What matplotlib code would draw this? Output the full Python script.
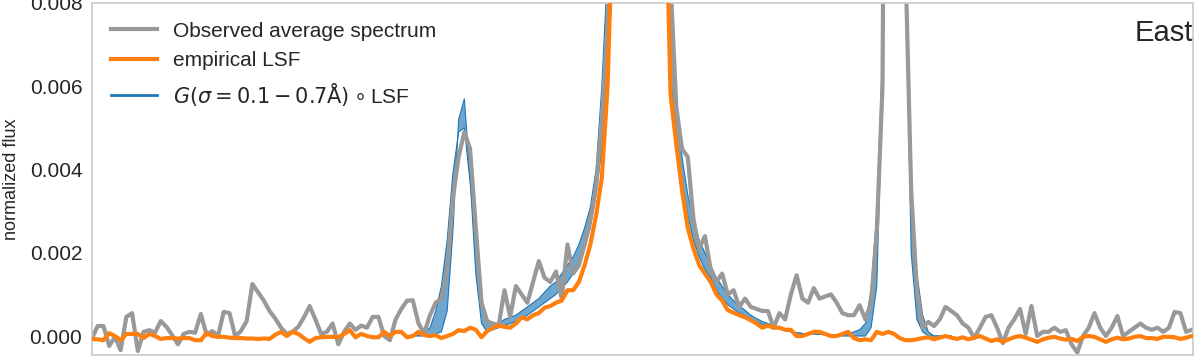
import numpy as np
import matplotlib
matplotlib.use("Agg")
import matplotlib.pyplot as plt
from matplotlib.lines import Line2D

plt.rcParams['font.family'] = ['Liberation Sans', 'DejaVu Sans']

# observed average spectrum (grey), sampled on detector pixels
observed = [
    -0.00005, 0.00024, 0.00024, -0.00024, -0.00002, -0.00034, 0.00046, 0.00055, -0.00036, 0.0001,
    0.00014, 0.00008, 0.00036, 0.00022, 0.00002, -0.0002, 0.00005, 0.0001, 0.00008, 0.00053,
    0.00003, 0.00012, 0.0, 0.00058, 0.00055, -0.00001, 0.00012, 0.00036, 0.00125, 0.00105,
    0.00085, 0.0006, 0.00042, 0.0002, 0.00005, 0.0001, 0.00022, 0.00045, 0.00072, 0.0004,
    0.00005, 0.0001, 0.0003, -0.0002, 0.0001, 0.0003, 0.00015, 0.00025, 0.0002, 0.00046,
    0.00046, 0.0, -0.0001, 0.0004, 0.00065, 0.00085, 0.00086, 0.0003, 0.00007, 0.0005,
    0.0008, 0.0009, 0.0016, 0.0033, 0.0043, 0.0049, 0.0045, 0.0026, 0.0008, 0.00035,
    0.0003, 0.00026, 0.0011, 0.00046, 0.0012, 0.001, 0.0008, 0.0013, 0.0018, 0.0014,
    0.0013, 0.00155, 0.0009, 0.0022, 0.0015, 0.0017, 0.0022, 0.0028, 0.0036, 0.0052,
    0.0075, 0.013, 0.035, 0.09, 0.17, 0.22, 0.2, 0.12, 0.06, 0.03,
    0.016, 0.0085, 0.0055, 0.0045, 0.0043, 0.0028, 0.0021, 0.0024, 0.0016, 0.0013,
    0.0015, 0.001, 0.0011, 0.0007, 0.0009, 0.0007, 0.00065, 0.0006, 0.0006, 0.0002,
    0.00055, 0.0004, 0.001, 0.00146, 0.0009, 0.0008, 0.00115, 0.0009, 0.00095, 0.001,
    0.0008, 0.00055, 0.0005, 0.0005, 0.00074, 0.0004, 0.0008, 0.0025, 0.006, 0.03,
    0.06, 0.035, 0.009, 0.0035, 0.0011, 0.0002, 0.00034, 0.00024, 0.0004, 0.0007,
    0.0006, 0.0005, 0.0003, 0.0002, -0.00005, 0.0002, 0.00046, 0.0005, 0.0002, -0.00017,
    0.0002, 0.0004, 0.00065, 0.00005, 0.00072, 0.0, 0.0001, 0.0001, 0.0002, 0.0001,
    0.00014, -0.0002, -0.0004, 0.0, 0.0002, 0.00055, 0.0002, 0.0, 0.0002, 0.00048,
    0.0, 0.0001, 0.0002, 0.0003, 0.0002, 0.00015, 0.0002, 0.0001, 0.0002, 0.00058,
    0.00055, 0.0001, 0.00015,
]

# empirical LSF (orange)
lsf = [
    -0.00007, -0.00008, -0.0001, 0.00007, 0.0, -0.0001, 0.00005, 0.00005, 0.00005, -0.00005,
    0.00005, 0.0, -0.00007, -0.00005, -0.00005, -0.00006, -0.00005, -0.00005, -0.0001, -0.0001,
    0.00007, 0.0, -0.00002, -0.00002, -0.00004, -0.00005, -0.00005, -0.00006, -0.00006, -0.00007,
    -0.00006, -0.00007, 0.00003, 0.0001, 0.0, 0.0001, 0.00005, -0.00005, -0.00014, -0.00005,
    -0.00003, -0.00002, -0.00002, -0.00003, 0.00005, 0.00014, -0.00003, 0.00005, 0.0, -0.00003,
    -0.00003, 0.0001, 0.0, 0.0001, 0.0001, -0.00003, 0.0, 0.0001, 0.00002, 0.0,
    0.00002, -0.00005, 0.0, 0.00005, 0.00014, 0.00012, 0.0002, 0.00015, -0.00003, 0.00012,
    0.0002, 0.00025, 0.00022, 0.0002, 0.0003, 0.00045, 0.0004, 0.0005, 0.00055, 0.00068,
    0.00072, 0.0008, 0.00085, 0.0011, 0.0011, 0.0013, 0.0017, 0.0022, 0.0029, 0.0038,
    0.006, 0.0105, 0.03, 0.08, 0.17, 0.23, 0.2, 0.11, 0.05, 0.022,
    0.0115, 0.0058, 0.0046, 0.0035, 0.0026, 0.0021, 0.0017, 0.0015, 0.0013, 0.001,
    0.00085, 0.00062, 0.00056, 0.0005, 0.00045, 0.00038, 0.0003, 0.0002, 0.00025, 0.0002,
    0.0002, 0.00015, 0.00015, 0.0, 0.0, 0.00005, 0.0001, 0.0001, 0.00005, 0.0,
    0.0, 0.00005, 0.0001, -0.00005, -0.0001, -0.00008, -0.0001, 0.0001, 0.00005, 0.0001,
    0.00005, -0.00005, -0.0001, -0.0001, -0.00008, -0.00005, -0.00003, -0.00008, -0.00004, 0.0,
    -0.00004, -0.00007, -0.00003, -0.00008, -0.00004, 0.0, -0.00006, -0.00012, -0.00008, -0.00014,
    -0.00008, -0.00003, 0.0, -0.00004, -0.00009, -0.00014, -0.00008, -0.00004, -0.00002, -0.00006,
    -0.00009, -0.00007, -0.00012, -0.00002, 0.0, -0.00002, -0.00008, -0.00014, -0.00008, -0.00004,
    -0.00008, -0.00006, -0.00002, 0.0, -0.00005, -0.00005, -0.00007, -0.00002, -0.00002, -0.00003,
    -0.00007, -0.00004, 0.0,
]

# G(sigma) o LSF, narrowest (0.1 A) and broadest (0.7 A) kernels, pixels 56..150
blue_start = 56
conv_narrow = [
    0.0, 0.0, 0.0, 0.0, 0.00005, 0.0001, 0.0006, 0.0025, 0.0052, 0.0057,
    0.0038, 0.0015, 0.0003, 0.0001, 0.00015, 0.0002, 0.00025, 0.0003, 0.00035, 0.0004,
    0.0005, 0.0006, 0.0007, 0.0008, 0.0009, 0.001, 0.00115, 0.0013, 0.0015, 0.0018,
    0.0021, 0.0026, 0.0034, 0.0045, 0.0068, 0.012, 0.032, 0.08, 0.16, 0.21,
    0.19, 0.11, 0.05, 0.024, 0.0125, 0.0062, 0.0048, 0.0037, 0.0029, 0.0023,
    0.0019, 0.0016, 0.0014, 0.0011, 0.0009, 0.00075, 0.00065, 0.00055, 0.00048, 0.0004,
    0.00033, 0.00028, 0.00024, 0.0002, 0.00017, 0.00014, 0.0001, 0.00008, 0.00006, 0.00005,
    0.00005, 0.00004, 0.00003, 0.00002, 0.0, 0.0, 0.0, 0.0, 0.0, 0.0,
    0.0002, 0.0012, 0.006, 0.03, 0.06, 0.035, 0.009, 0.002, 0.0004, 0.0001,
    0.0, 0.0, 0.0, 0.0, 0.0,
]
conv_broad = [
    0.0, 0.00002, 0.0001, 0.0002, 0.0006, 0.0012, 0.0023, 0.0039, 0.0049, 0.005,
    0.0037, 0.0023, 0.0009, 0.0004, 0.0003, 0.0003, 0.0004, 0.00045, 0.0005, 0.0006,
    0.0007, 0.0008, 0.0009, 0.00105, 0.0012, 0.0013, 0.0015, 0.0017, 0.0019, 0.0022,
    0.0026, 0.0031, 0.004, 0.006, 0.0088, 0.014, 0.03, 0.07, 0.13, 0.17,
    0.16, 0.1, 0.05, 0.025, 0.014, 0.0078, 0.0058, 0.0043, 0.0034, 0.0028,
    0.0023, 0.002, 0.0017, 0.0014, 0.0012, 0.001, 0.00085, 0.00072, 0.00062, 0.0005,
    0.00042, 0.00035, 0.0003, 0.00025, 0.0002, 0.00015, 0.0001, 0.00008, 0.00006, 0.00005,
    0.00005, 0.00004, 0.00003, 0.00003, 0.00003, 0.00003, 0.00005, 0.0001, 0.00015, 0.0003,
    0.0011, 0.003, 0.0068, 0.025, 0.045, 0.03, 0.0098, 0.0028, 0.0015, 0.0005,
    0.0001, 0.0, 0.0, 0.0, 0.0,
]

pix = np.arange(len(observed))
pix_b = np.arange(blue_start, blue_start + len(conv_narrow))

c_grey = '#999999'
c_orange = '#ff7f0e'
c_blue = '#1f77b4'

fig = plt.figure(figsize=(12, 3.6), dpi=100)
ax = fig.add_axes([92 / 1200, 5 / 360, 1101 / 1200, 352 / 360])

ax.fill_between(pix_b, conv_narrow, conv_broad, color=c_blue, alpha=0.65, lw=0, zorder=1)
ax.plot(pix_b, conv_narrow, color=c_blue, lw=0.8, zorder=1)
ax.plot(pix_b, conv_broad, color=c_blue, lw=0.8, zorder=1)
ax.plot(pix, observed, color=c_grey, lw=3, zorder=2)
ax.plot(pix, lsf, color=c_orange, lw=3, zorder=3)

ax.set_xlim(0, 192.2)
ax.set_ylim(-0.000456, 0.008)
ax.set_xticks([])
ax.set_yticks([0, 0.002, 0.004, 0.006, 0.008])
ax.set_yticklabels(['%.3f' % v for v in [0, 0.002, 0.004, 0.006, 0.008]])
ax.tick_params(axis='y', length=0, pad=7, labelsize=15, labelcolor='#262626')
ax.set_ylabel('normalized flux', fontsize=13, color='#262626', labelpad=7)
for s in ax.spines.values():
    s.set_color('#cccccc')
    s.set_linewidth(1.25)

ax.text(1.0, 0.893, 'East', transform=ax.transAxes, ha='right', va='baseline',
        fontsize=21, color='#262626')

handles = [Line2D([], [], color=c_grey, lw=3),
           Line2D([], [], color=c_orange, lw=3),
           Line2D([], [], color=c_blue, lw=2)]
labels = ['Observed average spectrum', 'empirical LSF',
          r'$G(\sigma=0.1-0.7\mathrm{\AA})\circ$LSF']
leg = ax.legend(handles, labels, loc='upper left', frameon=False, fontsize=15,
                handlelength=2.2)
for t in leg.get_texts():
    t.set_color('#262626')

fig.savefig('out.png', dpi=100)
